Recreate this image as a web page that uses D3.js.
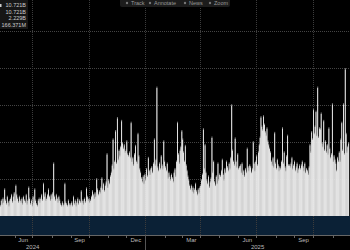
<!DOCTYPE html>
<html>
<head>
<meta charset="utf-8">
<script src="https://cdn.jsdelivr.net/npm/d3@7"></script>
<style>
  html, body { margin: 0; padding: 0; background: #000; }
  svg { display: block; font-family: "Liberation Sans", Arial, sans-serif; }
</style>
</head>
<body>
<div class="canvas"></div>
<script>
// daily volume, billions (one value per trading day from 9 May 2024)
const volume = [
  0.6, 0.9, 0.7, 1.0, 0.8, 1.5, 0.9, 0.7, 1.1, 0.8, 0.6, 0.9,
  1.0, 1.2, 0.8, 1.1, 1.3, 0.9, 1.7, 1.2, 1.0, 0.8, 1.1, 0.9,
  0.8, 1.0, 0.7, 1.1, 0.9, 0.8, 1.2, 0.7, 0.9, 1.6, 1.0,
  0.7, 0.9, 0.6, 1.1, 0.8, 1.5, 0.9, 0.7, 0.6, 0.9, 1.0, 0.8,
  1.0, 1.2, 0.9, 1.8, 1.1, 1.3, 0.9, 1.0, 1.2, 1.5, 1.1, 0.9,
  1.2, 1.0, 1.3, 2.9, 1.1, 0.9, 1.2, 1.0, 0.8, 1.1, 0.9,
  0.7, 0.6, 0.8, 0.6, 0.7, 1.8, 0.8, 0.7, 0.6, 0.9, 0.7, 0.6,
  0.7, 0.8, 0.6, 1.1, 0.7, 0.9, 0.6, 0.8, 1.0, 0.7, 0.9, 0.8,
  1.4, 0.8, 0.9, 0.7, 1.0, 0.8, 1.55, 1.1, 0.9, 1.0, 0.8,
  0.9, 1.1, 1.4, 1.2, 1.0, 1.3, 1.1, 2.05, 1.5, 1.2, 1.4, 1.3,
  1.6, 2.1, 1.5, 1.8, 1.4, 1.7, 1.9, 3.4, 1.6, 2.0, 1.8, 2.2,
  2.4, 2.8, 4.2, 2.6, 3.0, 4.65, 2.9, 5.35, 3.1, 3.6, 3.3,
  3.8, 5.2, 4.0, 3.7, 3.9, 3.5, 3.6, 4.1, 3.4, 3.3, 3.5, 3.2,
  5.1, 3.0, 3.2, 2.8, 3.4, 3.85, 3.0, 2.9, 4.5, 3.3, 2.6,
  2.4, 2.1, 1.9, 2.2, 1.8, 2.3, 2.0, 2.6, 2.2, 3.2, 2.5, 2.3,
  2.6, 2.7, 2.4, 2.9, 4.2, 2.8, 3.1, 7.0, 2.7, 2.5, 2.9, 2.6,
  3.3, 2.8, 2.6, 4.1, 3.0, 2.7, 2.5, 2.9, 2.1, 2.4, 2.2,
  2.0, 2.3, 2.1, 1.9, 2.4, 2.6, 2.2, 3.0, 5.1, 3.4, 2.9, 3.6,
  3.8, 4.65, 4.2, 3.5, 3.0, 3.85, 2.8, 2.5, 2.2, 2.0, 1.7,
  1.5, 1.7, 1.4, 1.6, 1.3, 1.5, 1.8, 1.4, 1.2, 1.5, 1.3, 1.6,
  1.7, 2.0, 2.3, 4.75, 2.6, 3.9, 2.4, 2.0, 1.8, 2.2, 1.6, 1.9,
  2.1, 4.3, 2.4, 3.0, 1.9, 1.7, 2.2, 1.8, 2.9, 2.0, 2.3,
  2.2, 2.5, 3.1, 2.3, 2.0, 2.6, 2.4, 3.0, 2.7, 2.5, 2.9, 2.6,
  3.2, 6.05, 3.6, 3.0, 2.8, 4.25, 3.0, 2.7, 3.4, 2.6, 2.7,
  2.8, 2.4, 2.9, 2.3, 2.5, 2.2, 2.6, 2.4, 3.7, 2.7, 2.5, 2.8,
  2.7, 2.4, 2.6, 4.05, 2.9, 2.5, 3.0, 3.3, 2.8, 3.5, 3.9, 4.3,
  5.4, 4.9, 4.7, 5.45, 5.0, 4.6, 4.4, 4.8, 4.1, 3.9, 3.7,
  3.5, 3.0, 2.8, 3.2, 2.7, 4.55, 2.9, 2.6, 3.1, 2.8, 2.5, 2.7,
  2.6, 3.0, 4.8, 2.9, 3.5, 2.7, 2.5, 3.3, 4.4, 2.8, 2.8,
  2.7, 2.9, 3.2, 2.6, 2.8, 3.0, 2.5, 2.7, 2.9, 2.4, 2.6, 2.8,
  2.6, 2.8, 3.0, 2.7, 2.5, 2.9, 2.4, 2.6, 2.5, 2.3, 2.7, 3.9,
  3.5, 4.6, 4.2, 5.8, 4.5, 4.9, 5.7, 4.4, 7.0, 4.3, 4.8,
  4.75, 5.6, 4.0, 3.8, 5.2, 3.6, 4.1, 3.5, 3.9, 3.4, 4.8, 3.7,
  3.2, 3.4, 6.1, 3.0, 3.3, 3.1, 2.9, 2.5, 3.2, 3.0, 3.5,
  3.0, 4.2, 5.1, 3.6, 6.1, 3.4, 8.0, 4.5, 3.5, 3.8, 4.0
];

const startDay = new Date(2024, 4, 9);
const quarterLabels = ['2024-06', '2024-09', '2024-12', '2025-03', '2025-06', '2025-09'];
const years = ['2024', '2025'];
const yGrid = [2, 4, 6, 8, 10];
const legendValues = ['10.721B', '10.721B', '2.229B', '166.371M'];
const toolbarItems = ['Track', 'Annotate', 'News', 'Zoom'];

const dims = { width: 350, height: 250, base: 216, bandBottom: 235 };

const svg = d3.select('.canvas')
    .append('svg')
    .attr('width', dims.width)
    .attr('height', dims.height);

svg.append('rect').attr('width', dims.width).attr('height', dims.height).attr('fill', '#000');

// trading-day index (weekdays) relative to the first bar
const isWeekday = d => d.getDay() % 6 !== 0;
const wdIndex = (d) => {
    const lo = d < startDay ? d : startDay;
    const hi = d < startDay ? startDay : d;
    const n = d3.timeDay.range(lo, hi).filter(isWeekday).length;
    return d < startDay ? -n : n;
};

const x = d3.scaleLinear().domain([0, 407]).range([0, dims.width]);
const y = d3.scaleLinear().domain([0, 11.68]).range([dims.base, 0]);
const step = x(1) - x(0);

const parseMonth = d3.timeParse('%Y-%m');
const parseYear = d3.timeParse('%Y');
const fmtMonth = d3.timeFormat('%b');

// lower panel band
svg.append('rect')
    .attr('x', 0).attr('y', dims.base)
    .attr('width', dims.width).attr('height', dims.bandBottom - dims.base)
    .attr('fill', '#0b2136');

// horizontal grid
svg.append('g').selectAll('line')
    .data(yGrid)
    .enter().append('line')
    .attr('x1', 0).attr('x2', dims.width)
    .attr('y1', d => Math.round(y(d)) + 0.5).attr('y2', d => Math.round(y(d)) + 0.5)
    .attr('stroke', '#444')
    .attr('stroke-width', 1)
    .attr('stroke-dasharray', '1,1');

// vertical grid at the end of each labelled month
const gridX = quarterLabels.map(m => {
    const next = d3.timeMonth.offset(parseMonth(m), 1);
    return Math.round(x(wdIndex(next))) + 0.5;
});

svg.append('g').selectAll('line')
    .data(gridX)
    .enter().append('line')
    .attr('x1', d => d).attr('x2', d => d)
    .attr('y1', 0).attr('y2', dims.bandBottom)
    .attr('stroke', '#3c3c3c')
    .attr('stroke-width', 1)
    .attr('stroke-dasharray', '1,1');

// volume bars: white columns, the gaps between them read as grey seams
const bars = svg.append('g');
bars.selectAll('rect.edge')
    .data(volume)
    .enter().append('rect')
    .attr('class', 'edge')
    .attr('x', (d, i) => x(i))
    .attr('width', step)
    .attr('y', d => y(d))
    .attr('height', d => y(0) - y(d))
    .attr('fill', '#999');
bars.selectAll('rect.col')
    .data(volume)
    .enter().append('rect')
    .attr('class', 'col')
    .attr('x', (d, i) => x(i))
    .attr('width', step * 0.88)
    .attr('y', d => y(d) + 1.5)
    .attr('height', d => Math.max(0, y(0) - y(d) - 1.5))
    .attr('fill', '#fff');

// axis line and month ticks
svg.append('line')
    .attr('x1', 0).attr('x2', dims.width)
    .attr('y1', dims.bandBottom + 0.5).attr('y2', dims.bandBottom + 0.5)
    .attr('stroke', '#666');

const monthStarts = d3.timeMonth.range(new Date(2024, 5, 1), new Date(2026, 0, 1));
svg.append('g').selectAll('line')
    .data(monthStarts)
    .enter().append('line')
    .attr('x1', d => Math.round(x(wdIndex(d))) + 0.5)
    .attr('x2', d => Math.round(x(wdIndex(d))) + 0.5)
    .attr('y1', dims.bandBottom).attr('y2', dims.bandBottom + 3)
    .attr('stroke', '#666');

svg.append('g').selectAll('text')
    .data(quarterLabels)
    .enter().append('text')
    .attr('x', m => {
        const a = parseMonth(m);
        const b = d3.timeMonth.offset(a, 1);
        return (x(wdIndex(a)) + x(wdIndex(b))) / 2;
    })
    .attr('y', 242)
    .attr('text-anchor', 'middle')
    .attr('font-size', 6)
    .attr('fill', '#bbb')
    .text(m => fmtMonth(parseMonth(m)));

// year row
svg.append('g').selectAll('text')
    .data(years)
    .enter().append('text')
    .attr('x', yr => {
        const a = parseYear(yr);
        const b = d3.timeYear.offset(a, 1);
        return (x(wdIndex(a)) + x(wdIndex(b))) / 2;
    })
    .attr('y', 249)
    .attr('text-anchor', 'middle')
    .attr('font-size', 6)
    .attr('fill', '#bbb')
    .text(yr => yr);

const yearEdge = Math.round(x(wdIndex(parseYear('2025')))) + 0.5;
svg.append('line')
    .attr('x1', yearEdge).attr('x2', yearEdge)
    .attr('y1', dims.bandBottom).attr('y2', dims.height)
    .attr('stroke', '#555');

// legend box, top left
const legendGroup = svg.append('g');
legendGroup.append('rect')
    .attr('x', 0).attr('y', 0).attr('width', 28).attr('height', 29)
    .attr('fill', '#161616');
legendGroup.selectAll('text.val')
    .data(legendValues)
    .enter().append('text')
    .attr('class', 'val')
    .attr('x', 26)
    .attr('y', (d, i) => 7 + i * 6.6)
    .attr('text-anchor', 'end')
    .attr('font-size', 5.5)
    .attr('fill', '#ccc')
    .text(d => d);
legendGroup.append('rect')
    .attr('x', 0).attr('y', 4).attr('width', 1.5).attr('height', 3)
    .attr('fill', '#ccc');

// toolbar, top
const bar = svg.append('g');
bar.append('rect')
    .attr('x', 120).attr('y', -4).attr('width', 110).attr('height', 11)
    .attr('rx', 2)
    .attr('fill', '#1c1c1c');
const itemX = [131, 154, 189, 214];
bar.selectAll('text')
    .data(toolbarItems)
    .enter().append('text')
    .attr('x', (d, i) => itemX[i])
    .attr('y', 5)
    .attr('font-size', 5.5)
    .attr('fill', '#999')
    .text(d => d);
bar.selectAll('circle')
    .data(toolbarItems)
    .enter().append('circle')
    .attr('cx', (d, i) => itemX[i] - 4)
    .attr('cy', 3)
    .attr('r', 1.2)
    .attr('fill', '#777');
</script>
</body>
</html>
